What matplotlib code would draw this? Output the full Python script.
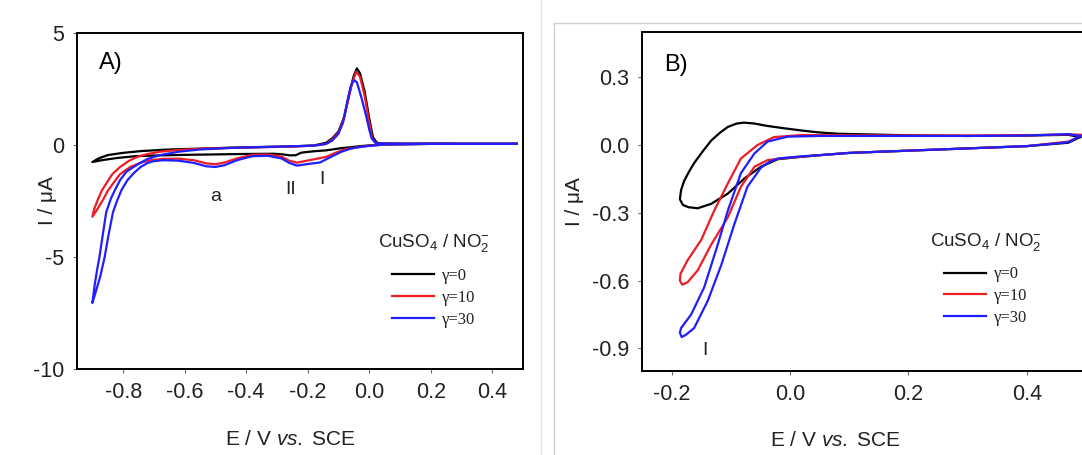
import matplotlib
matplotlib.use("Agg")
import matplotlib.pyplot as plt
from matplotlib.lines import Line2D

plt.rcParams["font.family"] = ["Liberation Sans", "DejaVu Sans"]
plt.rcParams["mathtext.fontset"] = "custom"
plt.rcParams["mathtext.rm"] = "Liberation Sans"
plt.rcParams["mathtext.it"] = "Liberation Sans:italic"
plt.rcParams["axes.unicode_minus"] = False

# ---- panel A: full range CVs (E / V, I / uA) ----
a_black_cat_E = [0.48, 0.2, 0.05, 0.0, -0.03, -0.06, -0.09, -0.14, -0.18, -0.22, -0.24, -0.26, -0.28, -0.31,
                 -0.4, -0.5, -0.6, -0.7, -0.76, -0.82, -0.87, -0.9]
a_black_cat_I = [0.05, 0.05, 0.03, -0.02, -0.05, -0.1, -0.14, -0.24, -0.28, -0.34, -0.46, -0.46, -0.42, -0.39,
                 -0.4, -0.42, -0.44, -0.47, -0.5, -0.58, -0.68, -0.76]
a_black_an_E = [-0.9, -0.88, -0.85, -0.8, -0.74, -0.65, -0.55, -0.45, -0.35, -0.25, -0.18, -0.14, -0.12, -0.1,
                -0.08, -0.065, -0.05, -0.04, -0.03, -0.015, 0.0, 0.012, 0.025, 0.04, 0.1, 0.3, 0.48]
a_black_an_I = [-0.76, -0.6, -0.45, -0.35, -0.27, -0.2, -0.16, -0.12, -0.09, -0.06, -0.02, 0.1, 0.3, 0.6,
                1.3, 2.3, 3.1, 3.42, 3.2, 2.4, 1.2, 0.35, 0.1, 0.07, 0.06, 0.05, 0.05]

a_red_cat_E = [0.48, 0.2, 0.05, 0.0, -0.04, -0.08, -0.11, -0.14, -0.18, -0.21, -0.235, -0.26, -0.285, -0.33,
               -0.38, -0.43, -0.47, -0.5, -0.53, -0.57, -0.62, -0.67, -0.71, -0.74, -0.777, -0.81, -0.833,
               -0.85, -0.866, -0.883, -0.9]
a_red_cat_I = [0.05, 0.05, 0.02, -0.03, -0.1, -0.2, -0.35, -0.53, -0.64, -0.72, -0.79, -0.7, -0.52, -0.42,
               -0.44, -0.6, -0.78, -0.86, -0.82, -0.68, -0.61, -0.62, -0.68, -0.78, -0.98, -1.3, -1.72,
               -2.05, -2.46, -2.85, -3.2]
a_red_an_E = [-0.9, -0.895, -0.883, -0.87, -0.855, -0.835, -0.81, -0.78, -0.754, -0.72, -0.68, -0.62, -0.55,
              -0.45, -0.35, -0.25, -0.18, -0.14, -0.12, -0.1, -0.085, -0.07, -0.055, -0.042, -0.03, -0.015,
              0.0, 0.01, 0.02, 0.04, 0.1, 0.3, 0.48]
a_red_an_I = [-3.2, -2.9, -2.46, -2.05, -1.72, -1.3, -0.98, -0.7, -0.53, -0.4, -0.3, -0.22, -0.17,
              -0.13, -0.1, -0.07, -0.03, 0.05, 0.25, 0.55, 1.1, 1.9, 2.8, 3.27, 3.05, 2.2,
              1.0, 0.3, 0.1, 0.07, 0.06, 0.05, 0.05]

a_blue_cat_E = [0.48, 0.2, 0.05, 0.0, -0.03, -0.06, -0.09, -0.12, -0.16, -0.2, -0.235, -0.26, -0.285, -0.33,
                -0.38, -0.43, -0.47, -0.5, -0.53, -0.57, -0.62, -0.67, -0.7, -0.72, -0.743, -0.765, -0.786,
                -0.805, -0.82, -0.833, -0.85, -0.86, -0.875, -0.89, -0.9]
a_blue_cat_I = [0.05, 0.05, 0.02, -0.04, -0.09, -0.16, -0.3, -0.5, -0.78, -0.85, -0.92, -0.8, -0.6, -0.48,
                -0.5, -0.68, -0.9, -0.98, -0.95, -0.8, -0.7, -0.68, -0.72, -0.8, -0.98, -1.25, -1.57,
                -2.0, -2.5, -3.0, -4.2, -5.0, -5.9, -6.6, -7.05]
a_blue_an_E = [-0.9, -0.893, -0.885, -0.877, -0.865, -0.855, -0.84, -0.827, -0.81, -0.79, -0.766, -0.745,
               -0.72, -0.68, -0.62, -0.55, -0.45, -0.35, -0.25, -0.18, -0.14, -0.12, -0.1, -0.085, -0.072,
               -0.06, -0.05, -0.04, -0.025, -0.01, 0.0, 0.008, 0.02, 0.04, 0.1, 0.3, 0.48]
a_blue_an_I = [-7.05, -6.3, -5.6, -5.0, -3.9, -3.0, -2.4, -2.02, -1.57, -1.2, -0.98, -0.8,
               -0.62, -0.45, -0.3, -0.2, -0.13, -0.09, -0.06, -0.03, 0.05, 0.2, 0.5, 1.0, 1.9,
               2.6, 2.9, 2.8, 2.1, 1.3, 0.7, 0.3, 0.1, 0.07, 0.06, 0.05, 0.05]

# ---- panel B: narrow range CVs ----
b_black_cat_E = [0.49, 0.47, 0.4, 0.3, 0.2, 0.1, 0.05, 0.02, -0.021, -0.049, -0.077, -0.105, -0.133, -0.156,
                 -0.172, -0.181, -0.186]
b_black_cat_I = [0.035, 0.01, -0.005, -0.015, -0.025, -0.035, -0.045, -0.052, -0.063, -0.096, -0.148, -0.215,
                 -0.26, -0.28, -0.275, -0.265, -0.24]
b_black_an_E = [-0.186, -0.184, -0.179, -0.171, -0.162, -0.148, -0.133, -0.118, -0.105, -0.09, -0.078, -0.06,
                -0.04, -0.01, 0.02, 0.047, 0.08, 0.13, 0.2, 0.3, 0.4, 0.47, 0.49]
b_black_an_I = [-0.24, -0.2, -0.16, -0.12, -0.08, -0.03, 0.02, 0.055, 0.08, 0.095, 0.099, 0.095,
                0.085, 0.074, 0.064, 0.056, 0.05, 0.047, 0.043, 0.04, 0.042, 0.045, 0.035]

b_red_cat_E = [0.495, 0.47, 0.4, 0.3, 0.2, 0.1, 0.05, 0.02, -0.01, -0.038, -0.06, -0.083, -0.105, -0.133,
               -0.156, -0.173, -0.182]
b_red_cat_I = [0.045, 0.015, -0.005, -0.015, -0.025, -0.035, -0.045, -0.052, -0.058, -0.067, -0.096, -0.185,
               -0.32, -0.44, -0.555, -0.607, -0.618]
b_red_an_E = [-0.182, -0.186, -0.185, -0.173, -0.15, -0.128, -0.105, -0.083, -0.055, -0.027, 0.019, 0.1,
              0.2, 0.3, 0.4, 0.47, 0.495]
b_red_an_I = [-0.618, -0.6, -0.57, -0.51, -0.42, -0.29, -0.17, -0.06, 0.0, 0.035, 0.044, 0.043,
              0.042, 0.042, 0.043, 0.047, 0.045]

b_blue_cat_E = [0.49, 0.47, 0.4, 0.3, 0.2, 0.1, 0.05, 0.02, -0.021, -0.035, -0.049, -0.072, -0.094, -0.116,
                -0.139, -0.162, -0.176, -0.183]
b_blue_cat_I = [0.04, 0.012, -0.005, -0.015, -0.025, -0.035, -0.045, -0.05, -0.06, -0.075, -0.1, -0.185,
                -0.35, -0.53, -0.69, -0.81, -0.84, -0.85]
b_blue_an_E = [-0.183, -0.186, -0.184, -0.167, -0.145, -0.122, -0.105, -0.083, -0.06, -0.038, -0.004, 0.05,
               0.1, 0.2, 0.3, 0.4, 0.47, 0.49]
b_blue_an_I = [-0.85, -0.83, -0.81, -0.75, -0.63, -0.44, -0.29, -0.125, -0.037, 0.015, 0.037, 0.04,
               0.04, 0.04, 0.04, 0.042, 0.048, 0.04]

legend_labels = ["\u03b3=0", "\u03b3=10", "\u03b3=30"]
colors = ["#000000", "#ee1c25", "#1f1fff"]

a_xticks = [-0.8, -0.6, -0.4, -0.2, 0.0, 0.2, 0.4]
a_yticks = [5, 0, -5, -10]
b_xticks = [-0.2, 0.0, 0.2, 0.4]
b_yticks = [0.3, 0.0, -0.3, -0.6, -0.9]

W, H = 1082, 455
fig = plt.figure(figsize=(W / 100, H / 100), dpi=100)


def style_axes(ax):
    for s in ax.spines.values():
        s.set_linewidth(1.4)
        s.set_color("black")
    ax.tick_params(direction="out", length=3, width=0.8, color="#666666",
                   labelsize=15.5, labelcolor="#222222", pad=6)


def draw_cv(ax, curves):
    for (cE, cI, aE, aI), col, lab in zip(curves, colors, legend_labels):
        ax.plot(cE + aE, cI + aI, color=col, linewidth=1.6, label=lab)


def add_legend(ax, anchor, transform):
    leg = ax.legend(loc="center", bbox_to_anchor=anchor, bbox_transform=transform, frameon=False,
                    title="CuSO$_4$ / NO$_2^{-}$", prop={"family": "Liberation Serif", "size": 12},
                    handlelength=2.5, labelspacing=0.35, handletextpad=0.5, borderpad=0)
    leg.get_title().set_fontsize(13.5)
    leg.get_title().set_color("#222222")
    leg._legend_box.sep = 10
    for t in leg.get_texts():
        t.set_color("#222222")


# ---- panel A ----
axA = fig.add_axes([77 / W, (H - 369) / H, 446 / W, 336 / H])
draw_cv(axA, [(a_black_cat_E, a_black_cat_I, a_black_an_E, a_black_an_I),
              (a_red_cat_E, a_red_cat_I, a_red_an_E, a_red_an_I),
              (a_blue_cat_E, a_blue_cat_I, a_blue_an_E, a_blue_an_I)])
axA.set_xlim(-0.95, 0.5)
axA.set_ylim(-10, 5)
axA.set_xticks(a_xticks)
axA.set_xticklabels(["%.1f" % v for v in a_xticks])
axA.set_yticks(a_yticks)
style_axes(axA)
axA.set_xlabel("E / V $\\it{vs.}$ SCE", fontsize=15, color="#222222")
axA.xaxis.set_label_coords(0.478, -0.182)
axA.set_ylabel("I / \u03bcA", fontsize=15, color="#222222")
axA.yaxis.set_label_coords(-0.045, 0.5)
axA.text(0.05, 0.91, "A)", transform=axA.transAxes, fontsize=17, va="center")
axA.text(-0.5, -2.3, "a", fontsize=14, ha="center", va="center", color="#222222")
axA.text(-0.254, -2.0, "II", fontsize=14, ha="center", va="center", color="#222222")
axA.text(-0.153, -1.56, "I", fontsize=14, ha="center", va="center", color="#222222")
add_legend(axA, (0.80, 0.265), axA.transAxes)

# ---- panel B ----
axB = fig.add_axes([642 / W, (H - 371) / H, 450 / W, 339 / H])
draw_cv(axB, [(b_black_cat_E, b_black_cat_I, b_black_an_E, b_black_an_I),
              (b_red_cat_E, b_red_cat_I, b_red_an_E, b_red_an_I),
              (b_blue_cat_E, b_blue_cat_I, b_blue_an_E, b_blue_an_I)])
axB.set_xlim(-0.25, 0.51)
axB.set_ylim(-1.0, 0.5)
axB.set_xticks(b_xticks)
axB.set_xticklabels(["%.1f" % v for v in b_xticks])
axB.set_yticks(b_yticks)
axB.set_yticklabels(["%.1f" % v for v in b_yticks])
style_axes(axB)
axB.set_xlabel("E / V $\\it{vs.}$ SCE", fontsize=15, color="#222222")
axB.xaxis.set_label_coords(0.43, -0.177)
axB.set_ylabel("I / \u03bcA", fontsize=15, color="#222222")
axB.yaxis.set_label_coords(-0.13, 0.5)
axB.text(-0.213, 0.356, "B)", fontsize=17, va="center")
axB.text(-0.143, -0.91, "I", fontsize=14, ha="center", va="center", color="#222222")
add_legend(axB, (0.331, -0.59), axB.transData)

# light frame lines of the composite picture
fig.add_artist(Line2D([541 / W, 541 / W], [0, 1], color="#dddddd", linewidth=1.0))
fig.add_artist(Line2D([554 / W, 554 / W], [0, (H - 23) / H], color="#d0d0d0", linewidth=1.0))
fig.add_artist(Line2D([554 / W, 1], [(H - 23) / H, (H - 23) / H], color="#d0d0d0", linewidth=1.0))

fig.savefig("out.png", dpi=100)
